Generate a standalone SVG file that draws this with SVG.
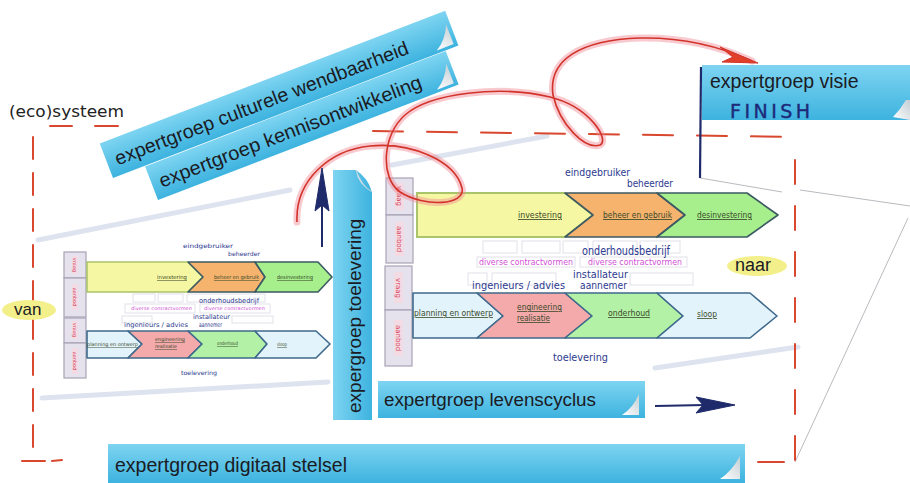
<svg xmlns="http://www.w3.org/2000/svg" width="910" height="483" viewBox="0 0 910 483">
<defs>
<linearGradient id="bn" x1="0" y1="0" x2="0" y2="1"><stop offset="0" stop-color="#7ed4f1"/><stop offset="1" stop-color="#3db3df"/></linearGradient>
<linearGradient id="bnv" x1="0" y1="0" x2="1" y2="0"><stop offset="0" stop-color="#7ed4f1"/><stop offset="1" stop-color="#3db3df"/></linearGradient>
<linearGradient id="curl" x1="0" y1="1" x2="1" y2="0"><stop offset="0" stop-color="#ffffff"/><stop offset="1" stop-color="#c4cfd5"/></linearGradient>
<style>
.bt{font-family:"Liberation Sans",Arial,sans-serif;fill:#1b1b24}
.hw{font-family:"DejaVu Sans",sans-serif;fill:#2d3a8f}
.mg{font-family:"DejaVu Sans",sans-serif;fill:#d24fd6}
.lb{font-family:"DejaVu Sans",sans-serif;fill:#3a4a2a;text-decoration:underline}
.cell{fill:#e5e2ee;stroke:#a7a3b5;stroke-width:1.2}
.ci{fill:#f3dbe4}
.ct{font-family:"DejaVu Sans",sans-serif;fill:#d8455a}
.dash{stroke:#d8472e;stroke-width:2;fill:none;stroke-linecap:round}
.ph{fill:none;stroke:#e2e2ea;stroke-width:1}
.sh{stroke:#dde3ef;stroke-linecap:round;fill:none}
.ol{stroke:#3c5a63;stroke-width:1.6;stroke-linejoin:round}
.olb{stroke:#3f6a8c;stroke-width:1.6;stroke-linejoin:round}
.thin{stroke:#a4a9ae;stroke-width:0.8;fill:none}
.nv{stroke:#1f2a6b;fill:#1f2a6b}
</style>
</defs>
<rect width="910" height="483" fill="#ffffff"/>

<!-- soft shadow strokes -->
<g id="shadows">
<path class="sh" d="M38,240 L290,190" stroke-width="5"/>
<path class="sh" d="M42,398 L328,382" stroke-width="5"/>
<path class="sh" d="M392,165 L547,136" stroke-width="5"/>
<path class="sh" d="M655,368 L798,347" stroke-width="5"/>
<path class="thin" d="M700,178 L782,192 M800,190 L910,206 M908,218 L795,462"/>
</g>

<!-- (eco)systeem dashed frame -->
<g id="ecosysteem">
<text x="9" y="117" class="hw" style="fill:#222" font-size="15" textLength="115" lengthAdjust="spacingAndGlyphs">(eco)systeem</text>
<path class="dash" d="M50,126 L72,126 M95,126 L118,126"/>
<path class="dash" d="M373,131 L795,137" stroke-dasharray="30 24"/>
<path class="dash" d="M33,137 L33,460" stroke-dasharray="22 14"/>
<path class="dash" d="M795,160 L795,460" stroke-dasharray="24 22"/>
<path class="dash" d="M22,461 L45,461 M52,461 L62,460 M758,462 L784,462"/>
</g>

<!-- van / naar -->
<g id="van">
<ellipse cx="29" cy="310" rx="27" ry="10" fill="#f3f08c"/>
<text x="14" y="315" class="bt" font-size="17">van</text>
</g>
<g id="naar">
<ellipse cx="757" cy="266" rx="30" ry="10" fill="#f3f08c"/>
<text x="735" y="271" class="bt" font-size="18">naar</text>
</g>

<!-- left (van) chain diagram -->
<g id="diagram-van">
<rect class="cell" x="64" y="252" width="22" height="26"/>
<rect class="cell" x="64" y="278" width="22" height="39"/>
<rect class="cell" x="64" y="318" width="22" height="25"/>
<rect class="cell" x="64" y="343" width="22" height="35"/>
<rect class="ci" x="72" y="256" width="6" height="18"/>
<rect class="ci" x="72" y="284" width="6" height="26"/>
<rect class="ci" x="72" y="321" width="6" height="18"/>
<rect class="ci" x="72" y="348" width="6" height="26"/>
<text class="ct" font-size="5" text-anchor="middle" transform="translate(75,265) rotate(90)" dy="1.8">vraag</text>
<text class="ct" font-size="5" text-anchor="middle" transform="translate(75,297) rotate(90)" dy="1.8">aanbod</text>
<text class="ct" font-size="5" text-anchor="middle" transform="translate(75,330) rotate(90)" dy="1.8">vraag</text>
<text class="ct" font-size="5" text-anchor="middle" transform="translate(75,361) rotate(90)" dy="1.8">aanbod</text>

<polygon points="87,262 188,262 203,277 188,292 87,292" fill="#f6f7a2" stroke="#a9c46a" stroke-width="1.6"/>
<polygon class="ol" points="188,262 255,262 265,277 255,292 188,292 203,277" fill="#f6b36e"/>
<polygon class="ol" points="255,262 318,262 332,277 318,292 255,292 265,277" fill="#a6ef8c"/>
<text x="157" y="279" class="lb" font-size="5.5" textLength="30" lengthAdjust="spacingAndGlyphs">investering</text>
<text x="214" y="279" class="lb" font-size="5.5" textLength="45" lengthAdjust="spacingAndGlyphs">beheer en gebruik</text>
<text x="277" y="279" class="lb" font-size="5.5" textLength="36" lengthAdjust="spacingAndGlyphs">desinvestering</text>
<text x="183" y="248" class="hw" font-size="6" textLength="50" lengthAdjust="spacingAndGlyphs">eindgebruiker</text>
<text x="228" y="256" class="hw" font-size="6" textLength="32" lengthAdjust="spacingAndGlyphs">beheerder</text>

<rect class="ph" x="133" y="294" width="22" height="8"/>
<rect class="ph" x="158" y="294" width="25" height="8"/>
<rect class="ph" x="187" y="294" width="78" height="8"/>
<rect class="ph" x="125" y="304" width="70" height="9"/>
<rect class="ph" x="200" y="304" width="70" height="9"/>
<rect class="ph" x="122" y="316" width="30" height="7"/>
<rect class="ph" x="232" y="316" width="41" height="7"/>
<text x="199" y="303" class="hw" font-size="7" textLength="60" lengthAdjust="spacingAndGlyphs">onderhoudsbedrijf</text>
<text x="131" y="310" class="mg" font-size="4.8" textLength="61" lengthAdjust="spacingAndGlyphs">diverse contractvormen</text>
<text x="204" y="310" class="mg" font-size="4.8" textLength="61" lengthAdjust="spacingAndGlyphs">diverse contractvormen</text>
<text x="193" y="319" class="hw" font-size="6.5" textLength="37" lengthAdjust="spacingAndGlyphs">installateur</text>
<text x="124" y="327" class="hw" font-size="6.5" textLength="64" lengthAdjust="spacingAndGlyphs">ingenieurs / advies</text>
<text x="199" y="327" class="hw" font-size="6.5" textLength="23" lengthAdjust="spacingAndGlyphs">aannemer</text>

<polygon class="olb" points="87,331 128,331 142,344 128,358 87,358" fill="#e3f3fb"/>
<polygon class="olb" points="128,331 188,331 202,344 188,358 128,358 142,344" fill="#f4a9ab"/>
<polygon class="olb" points="188,331 255,331 267,344 255,358 188,358 202,344" fill="#b3f1a6"/>
<polygon class="olb" points="255,331 316,331 330,344 316,358 255,358 267,344" fill="#e3f3fb"/>
<text x="87" y="346" class="lb" font-size="5" textLength="51" lengthAdjust="spacingAndGlyphs">planning en ontwerp</text>
<text x="155" y="341" class="lb" font-size="5" textLength="30" lengthAdjust="spacingAndGlyphs">engineering</text>
<text x="155" y="348" class="lb" font-size="5" textLength="22" lengthAdjust="spacingAndGlyphs">realisatie</text>
<text x="217" y="345" class="lb" font-size="5" textLength="21" lengthAdjust="spacingAndGlyphs">onderhoud</text>
<text x="277" y="346" class="lb" font-size="5" textLength="10" lengthAdjust="spacingAndGlyphs">sloop</text>
<text x="181" y="375" class="hw" font-size="6" textLength="36" lengthAdjust="spacingAndGlyphs">toelevering</text>
</g>

<!-- right (naar) chain diagram -->
<g id="diagram-naar">
<rect class="cell" x="386" y="178" width="27" height="37"/>
<rect class="cell" x="386" y="215" width="27" height="48"/>
<rect class="cell" x="385" y="266" width="27" height="44"/>
<rect class="cell" x="385" y="310" width="27" height="56"/>
<rect class="ci" x="395" y="183" width="9" height="27"/>
<rect class="ci" x="395" y="222" width="9" height="34"/>
<rect class="ci" x="394" y="272" width="9" height="31"/>
<rect class="ci" x="394" y="320" width="9" height="36"/>
<text class="ct" font-size="7" text-anchor="middle" transform="translate(399,196) rotate(90)" dy="2.5">vraag</text>
<text class="ct" font-size="7" text-anchor="middle" transform="translate(399,239) rotate(90)" dy="2.5">aanbod</text>
<text class="ct" font-size="7" text-anchor="middle" transform="translate(398,288) rotate(90)" dy="2.5">vraag</text>
<text class="ct" font-size="7" text-anchor="middle" transform="translate(398,338) rotate(90)" dy="2.5">aanbod</text>

<polygon points="417,193 565,193 593,215 565,237 417,237" fill="#f6f7a2" stroke="#a9c46a" stroke-width="2"/>
<polygon class="ol" points="565,193 657,193 685,215 657,237 565,237 593,215" fill="#f6b36e"/>
<polygon class="ol" points="657,193 747,193 778,215 747,237 657,237 685,215" fill="#a6ef8c"/>
<text x="518" y="218" class="lb" font-size="8.5" textLength="44" lengthAdjust="spacingAndGlyphs">investering</text>
<text x="603" y="218" class="lb" font-size="8.5" textLength="69" lengthAdjust="spacingAndGlyphs">beheer en gebruik</text>
<text x="697" y="218" class="lb" font-size="8.5" textLength="55" lengthAdjust="spacingAndGlyphs">desinvestering</text>
<text x="565" y="176" class="hw" font-size="10" textLength="65" lengthAdjust="spacingAndGlyphs">eindgebruiker</text>
<text x="627" y="187" class="hw" font-size="10" textLength="46" lengthAdjust="spacingAndGlyphs">beheerder</text>

<rect class="ph" x="483" y="241" width="34" height="12"/>
<rect class="ph" x="522" y="241" width="38" height="12"/>
<rect class="ph" x="563" y="241" width="25" height="12"/>
<rect class="ph" x="593" y="241" width="44" height="12"/>
<rect class="ph" x="640" y="241" width="40" height="12"/>
<rect class="ph" x="477" y="257" width="98" height="10"/>
<rect class="ph" x="580" y="257" width="107" height="10"/>
<rect class="ph" x="468" y="273" width="19" height="12"/>
<rect class="ph" x="492" y="273" width="64" height="12"/>
<rect class="ph" x="630" y="273" width="63" height="12"/>
<text x="582" y="255" class="hw" font-size="12" textLength="88" lengthAdjust="spacingAndGlyphs">onderhoudsbedrijf</text>
<text x="479" y="265" class="mg" font-size="8" textLength="94" lengthAdjust="spacingAndGlyphs">diverse contractvormen</text>
<text x="588" y="265" class="mg" font-size="8" textLength="94" lengthAdjust="spacingAndGlyphs">diverse contractvormen</text>
<text x="573" y="278" class="hw" font-size="10" textLength="55" lengthAdjust="spacingAndGlyphs">installateur</text>
<text x="472" y="289" class="hw" font-size="10" textLength="93" lengthAdjust="spacingAndGlyphs">ingenieurs / advies</text>
<text x="580" y="289" class="hw" font-size="10" textLength="47" lengthAdjust="spacingAndGlyphs">aannemer</text>

<polygon class="olb" points="413,293 477,293 503,316 477,338 413,338" fill="#e3f3fb"/>
<polygon class="olb" points="477,293 565,293 592,316 565,338 477,338 503,316" fill="#f4a9ab"/>
<polygon class="olb" points="565,293 657,293 683,316 657,338 565,338 592,316" fill="#b3f1a6"/>
<polygon class="olb" points="657,293 750,293 777,316 750,338 657,338 683,316" fill="#e3f3fb"/>
<text x="414" y="316" class="lb" font-size="8" textLength="79" lengthAdjust="spacingAndGlyphs">planning en ontwerp</text>
<text x="517" y="310" class="lb" font-size="8" textLength="45" lengthAdjust="spacingAndGlyphs">engineering</text>
<text x="517" y="321" class="lb" font-size="8" textLength="33" lengthAdjust="spacingAndGlyphs">realisatie</text>
<text x="608" y="316" class="lb" font-size="8" textLength="42" lengthAdjust="spacingAndGlyphs">onderhoud</text>
<text x="697" y="317" class="lb" font-size="8" textLength="20" lengthAdjust="spacingAndGlyphs">sloop</text>
<text x="553" y="361" class="hw" font-size="10" textLength="55" lengthAdjust="spacingAndGlyphs">toelevering</text>
</g>

<!-- banners -->
<g id="eg-culturele-wendbaarheid" transform="translate(113,178) rotate(-21)">
<rect x="0" y="-37" width="370" height="37" fill="url(#bn)"/>
<path d="M348,-3 Q360,-10 366,-24 L366,-3 Z" fill="url(#curl)"/>
<text x="9" y="-10" class="bt" font-size="19.5" textLength="313" lengthAdjust="spacingAndGlyphs">expertgroep culturele wendbaarheid</text>
</g>
<g id="eg-kennisontwikkeling" transform="translate(158,200) rotate(-21)">
<rect x="0" y="-36" width="322" height="36" fill="url(#bn)"/>
<path d="M300,-3 Q312,-10 318,-24 L318,-3 Z" fill="url(#curl)"/>
<text x="8" y="-10" class="bt" font-size="19.5" textLength="280" lengthAdjust="spacingAndGlyphs">expertgroep kennisontwikkeling</text>
</g>
<g id="eg-visie">
<rect x="702" y="65" width="208" height="55" fill="url(#bn)"/>
<path d="M893,117 Q900,110 906,100 L910,100 L910,120 Z" fill="url(#curl)"/>
<text x="710" y="88" class="bt" font-size="19.5">expertgroep visie</text>
<text x="730" y="118" font-family="DejaVu Sans, sans-serif" font-size="19" fill="#1d2a7a" stroke="#1d2a7a" stroke-width="0.4" textLength="80" lengthAdjust="spacing">FINISH</text>
<path d="M701,67 L700,178" stroke="#1f2a6b" stroke-width="2.2" fill="none"/>
</g>
<g id="eg-toelevering">
<path d="M333,170 L356,170 Q368,178 372,192 L372,420 L333,420 Z" fill="url(#bnv)"/>
<path d="M356,170 Q358,184 372,192 Q362,186 356,170 Z" fill="url(#curl)" stroke="#c8d2d8" stroke-width="0.5"/>
<text transform="translate(361,413) rotate(-90)" class="bt" font-size="19">expergroep toelevering</text>
</g>
<g id="eg-levenscyclus">
<rect x="378" y="381" width="267" height="37" fill="url(#bn)"/>
<path d="M622,415 Q633,408 639,394 L639,415 Z" fill="url(#curl)"/>
<text x="384" y="406" class="bt" font-size="18.8">expertgroep levenscyclus</text>
</g>
<g id="eg-digitaal-stelsel">
<rect x="108" y="444" width="637" height="39" fill="url(#bn)"/>
<path d="M720,479 Q732,471 740,456 L740,479 Z" fill="url(#curl)"/>
<text x="115" y="472" class="bt" font-size="19.5">expertgroep digitaal stelsel</text>
</g>

<!-- connectors -->
<g id="connectors">
<path d="M297,222 C295,180 330,150 370,146 C410,142 455,160 462,188 C466,205 425,208 400,192 C380,178 382,135 405,115 C430,93 500,85 550,97 C590,107 610,140 600,145 C585,150 560,125 553,95 C548,60 580,40 640,38 C690,37 728,50 752,61" fill="none" stroke="#f08a95" stroke-width="7" stroke-linecap="round" opacity="0.45"/>
<path d="M297,222 C295,180 330,150 370,146 C410,142 455,160 462,188 C466,205 425,208 400,192 C380,178 382,135 405,115 C430,93 500,85 550,97 C590,107 610,140 600,145 C585,150 560,125 553,95 C548,60 580,40 640,38 C690,37 728,50 752,61" fill="none" stroke="#d2332a" stroke-width="1.6"/>
<polygon points="758,63 720,47 733,57 722,62" fill="#e0402a" stroke="#d2332a" stroke-width="1"/>
<path d="M322,247 L322,200" stroke="#1f2a6b" stroke-width="2" fill="none"/>
<polygon class="nv" points="322,168 315,211 322,205 329,211" stroke-width="1"/>
<path d="M655,406 L705,405" stroke="#1f2a6b" stroke-width="2.2" fill="none"/>
<polygon class="nv" points="735,405 696,397 703,405 696,413" stroke-width="1"/>
</g>
</svg>
